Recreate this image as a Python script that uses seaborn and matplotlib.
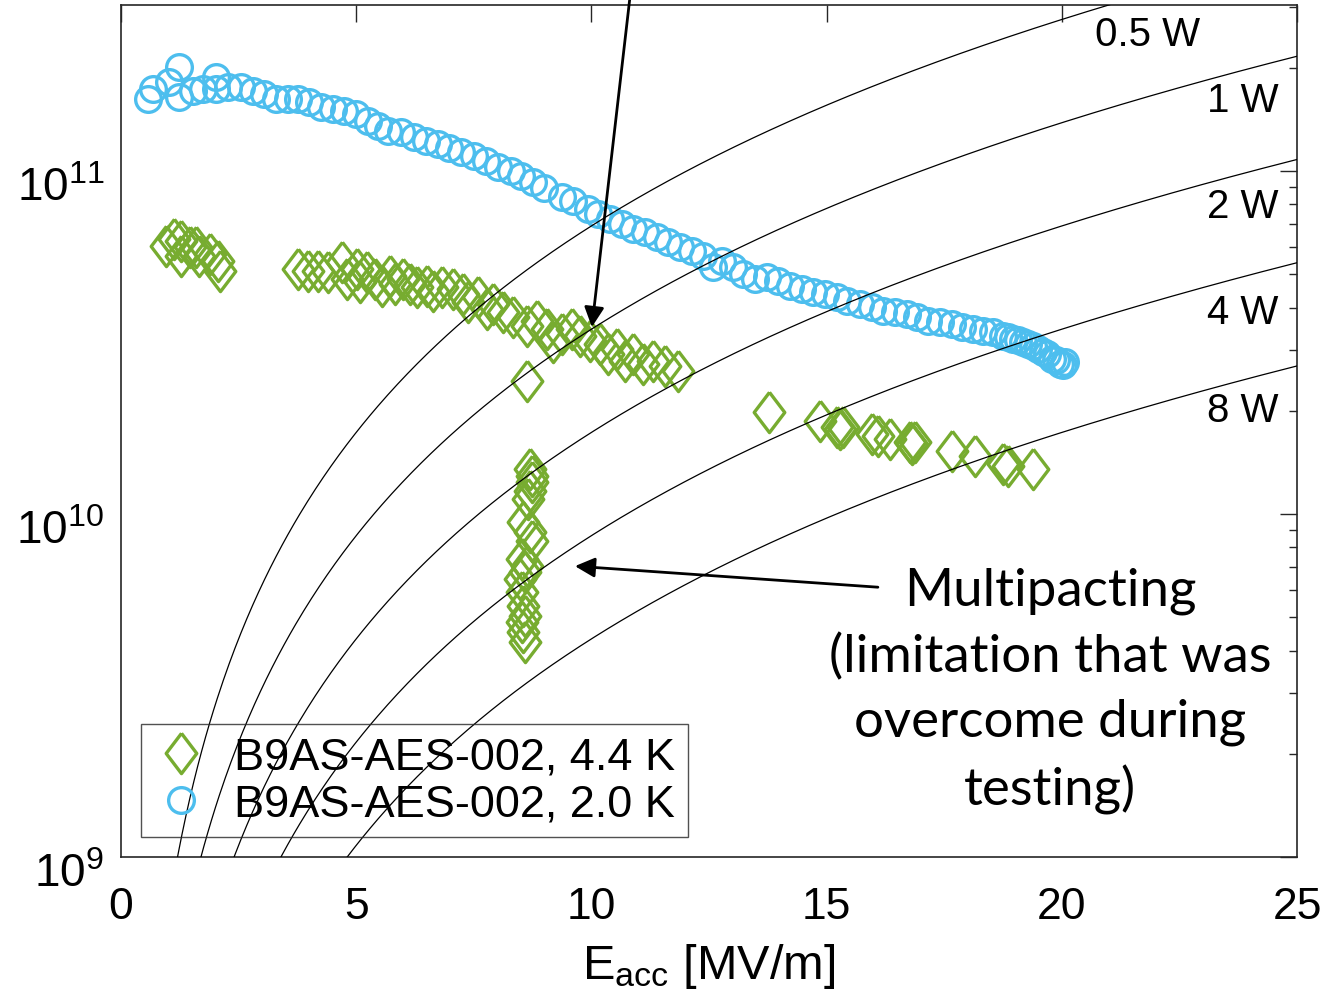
import numpy as np
import pandas as pd
import matplotlib
matplotlib.use("Agg")
import matplotlib.pyplot as plt
import matplotlib.transforms as mtransforms
import seaborn as sns

# ---------------- data ----------------
# 2.0 K series: Eacc [MV/m], Q0 in units of 1e10
e_blue = [0.57, 0.68, 1.02, 1.23, 1.23, 1.53, 1.74, 2.02, 2.02, 2.27,
          2.55, 2.81, 3.04, 3.30, 3.55, 3.76, 4.00, 4.25, 4.51, 4.74,
          5.00, 5.25, 5.46, 5.68, 5.95, 6.23, 6.48, 6.74, 6.97, 7.23,
          7.50, 7.76, 8.01, 8.29, 8.50, 8.76, 8.99, 9.38, 9.61, 9.93,
          10.14, 10.40, 10.65, 10.88, 11.14, 11.39, 11.63, 11.88, 12.14, 12.37,
          12.58, 12.78, 13.01, 13.22, 13.48, 13.73, 13.97, 14.22, 14.48, 14.71,
          14.97, 15.22, 15.43, 15.71, 15.97, 16.20, 16.45, 16.71, 16.92, 17.16,
          17.41, 17.67, 17.88, 18.11, 18.32, 18.54, 18.75, 18.86, 18.96, 19.07,
          19.18, 19.28, 19.39, 19.49, 19.60, 19.69, 19.79, 19.88, 19.96, 20.03,
          20.07]
q_blue_e10 = [16.2, 17.3, 18.2, 20.1, 16.4, 17.1, 17.3, 18.8, 17.3, 17.6,
              17.6, 17.1, 16.8, 16.2, 16.2, 16.2, 15.9, 15.4, 15.2, 15.0,
              14.7, 14.0, 13.5, 13.1, 13.0, 12.6, 12.2, 12.0, 11.7, 11.4,
              11.1, 10.7, 10.3, 10.0, 9.7, 9.3, 8.9, 8.4, 8.2, 7.75,
              7.5, 7.25, 7.0, 6.77, 6.64, 6.42, 6.21, 6.0, 5.85, 5.65,
              5.25, 5.47, 5.25, 5.0, 4.84, 4.91, 4.78, 4.62, 4.53, 4.44,
              4.38, 4.29, 4.18, 4.09, 4.01, 3.91, 3.88, 3.83, 3.75, 3.65,
              3.63, 3.58, 3.51, 3.46, 3.42, 3.40, 3.30, 3.28, 3.24, 3.21,
              3.17, 3.13, 3.09, 3.03, 2.97, 2.93, 2.83, 2.81, 2.74, 2.72,
              2.77]

# 4.4 K series
e_green = [0.96, 1.13, 1.28, 1.28, 1.47, 1.59, 1.66, 1.89, 2.06, 2.10,
           3.76, 3.98, 4.19, 4.40, 4.70, 4.80, 5.02, 5.08, 5.23, 5.40,
           5.55, 5.72, 5.82, 5.99, 6.14, 6.29, 6.51, 6.63, 6.82, 7.06,
           7.27, 7.38, 7.59, 7.78, 7.91, 8.12, 8.33, 8.63, 8.84, 9.06,
           9.18, 9.38, 9.59, 9.76, 9.97, 10.18, 10.35, 10.54, 10.71, 10.88,
           11.10, 11.31, 11.56, 11.84,
           8.63,
           8.69, 8.74, 8.74, 8.69, 8.65, 8.55, 8.69, 8.74, 8.52, 8.63,
           8.59, 8.48, 8.52, 8.55, 8.59, 8.52, 8.55, 8.59,
           13.78, 14.86, 15.22, 15.28, 15.35, 15.97, 16.09, 16.35, 16.77, 16.81,
           16.88, 17.67, 18.15, 18.75, 18.86, 19.39]
q_green_e10 = [6.04, 6.34, 6.25, 5.65, 6.0, 6.0, 5.65, 5.73, 5.47, 5.11,
               5.18, 5.11, 5.11, 5.08, 5.43, 4.84, 5.18, 4.75, 5.08, 4.84,
               4.62, 4.94, 4.69, 4.84, 4.69, 4.59, 4.62, 4.47, 4.59, 4.53,
               4.38, 4.15, 4.29, 3.96, 4.09, 3.88, 3.75, 3.53, 3.65, 3.46,
               3.17, 3.35, 3.46, 3.30, 3.19, 3.13, 2.93, 3.03, 2.79, 2.93,
               2.74, 2.79, 2.70, 2.61,
               2.44,
               1.35, 1.29, 1.24, 1.17, 1.11, 0.95, 0.887, 0.834, 0.739, 0.705,
               0.677, 0.646, 0.593, 0.539, 0.504, 0.484, 0.453, 0.424,
               1.98, 1.87, 1.79, 1.77, 1.79, 1.71, 1.69, 1.66, 1.62, 1.60,
               1.62, 1.53, 1.48, 1.40, 1.38, 1.35]

label_green = "B9AS-AES-002, 4.4 K"
label_blue = "B9AS-AES-002, 2.0 K"

# constant-power lines: Q0 = G * Eacc^2 / P
powers_w = [0.5, 1, 2, 4, 8]
power_labels = ["0.5 W", "1 W", "2 W", "4 W", "8 W"]
power_const = 3.46e8

x_ticks = [0, 5, 10, 15, 20, 25]
x_lim = (0, 25)
y_lim = (1e9, 3.05e11)

annot_text = "Multipacting\n(limitation that was\novercome during\ntesting)"

# ---------------- style ----------------
blue = "#4DBEEE"
green = "#77AC30"
axcol = "#262626"

sns.set_theme(style="white")
plt.rcParams["font.family"] = ["Liberation Sans", "DejaVu Sans"]
plt.rcParams["mathtext.fontset"] = "custom"
plt.rcParams["mathtext.rm"] = "Liberation Sans"
plt.rcParams["mathtext.it"] = "Liberation Sans:italic"
plt.rcParams["mathtext.bf"] = "Liberation Sans:bold"
plt.rcParams["text.color"] = "black"
plt.rcParams["axes.labelcolor"] = "black"
plt.rcParams["xtick.color"] = "black"
plt.rcParams["ytick.color"] = "black"

fig = plt.figure(figsize=(13.25, 10.04), dpi=100)
ax = fig.add_axes([0.0913, 0.1454, 0.8876, 0.8486])
ax.set_yscale("log")

df_blue = pd.DataFrame({"E": e_blue, "Q": np.array(q_blue_e10) * 1e10})
df_green = pd.DataFrame({"E": e_green, "Q": np.array(q_green_e10) * 1e10})

diamond = [(0, 1), (0.76, 0), (0, -1), (-0.76, 0), (0, 1)]

sns.lineplot(data=df_green, x="E", y="Q", sort=False, estimator=None, ax=ax,
             linestyle="", marker=diamond, markersize=29,
             markerfacecolor="none", markeredgecolor=green, markeredgewidth=2.4,
             color=green, label=label_green, zorder=2)
sns.lineplot(data=df_blue, x="E", y="Q", sort=False, estimator=None, ax=ax,
             linestyle="", marker="o", markersize=18.5,
             markerfacecolor="none", markeredgecolor=blue, markeredgewidth=2.4,
             color=blue, label=label_blue, zorder=2)

e_curve = np.linspace(0.05, 25, 600)
for p in powers_w:
    sns.lineplot(x=e_curve, y=power_const * e_curve ** 2 / p, ax=ax,
                 color="black", linewidth=0.9, sort=False, estimator=None,
                 legend=False, zorder=3)

# power labels
label_pos = [(22.94, 2.51e11), (24.6, 1.61e11), (24.6, 7.91e10),
             (24.6, 3.88e10), (24.6, 2.01e10)]
for (lx, ly), txt in zip(label_pos, power_labels):
    ax.text(lx, ly, txt, ha="right", va="center", fontsize=29, color="black",
            zorder=4)

ax.set_xlim(*x_lim)
ax.set_ylim(*y_lim)
ax.set_xticks(x_ticks)
ax.set_xticklabels([str(t) for t in x_ticks])
ax.xaxis.set_minor_locator(matplotlib.ticker.NullLocator())
ax.yaxis.set_major_locator(matplotlib.ticker.LogLocator(base=10, numticks=10))
ax.yaxis.set_minor_locator(matplotlib.ticker.LogLocator(base=10, subs=np.arange(2, 10), numticks=20))
ax.yaxis.set_minor_formatter(matplotlib.ticker.NullFormatter())

ax.tick_params(axis="both", which="both", direction="in", top=True, right=True,
               colors=axcol, labelcolor="black", width=1.0)
ax.tick_params(axis="both", which="major", length=12, labelsize=32)
ax.tick_params(axis="y", which="major", labelsize=33)
ax.tick_params(axis="both", which="minor", length=6)
ax.tick_params(axis="x", which="major", pad=21)
ax.tick_params(axis="y", which="major", pad=12)

for s in ax.spines.values():
    s.set_color(axcol)
    s.set_linewidth(1.2)

ax.set_xlabel(r"$\mathregular{E_{acc}}$ [MV/m]", fontsize=35, labelpad=10)
ax.set_ylabel("")

# shift y tick labels down so that the "10" sits on the tick (MATLAB style)
offset = mtransforms.ScaledTranslation(0, -12 / 100, fig.dpi_scale_trans)
fig.canvas.draw()
for lbl in ax.get_yticklabels():
    lbl.set_transform(lbl.get_transform() + offset)

# arrows
ax.annotate("", xy=(10.01, 3.51e10), xytext=(10.84, 3.4e11),
            arrowprops=dict(arrowstyle="-|>", color="black", lw=2,
                            mutation_scale=30, shrinkA=0, shrinkB=0),
            annotation_clip=False, zorder=5)
ax.annotate("", xy=(9.65, 7.05e9), xytext=(16.09, 6.12e9),
            arrowprops=dict(arrowstyle="-|>", color="black", lw=2,
                            mutation_scale=30, shrinkA=0, shrinkB=0),
            annotation_clip=False, zorder=5)
ax.text(19.75, 3.06e9, annot_text, ha="center", va="center",
        multialignment="center", fontsize=38, family=["Lato", "DejaVu Sans"],
        linespacing=1.46, color="black", zorder=5)

leg = ax.legend(loc="lower left", bbox_to_anchor=(0.017, 0.0235),
                borderaxespad=0, fontsize=32.5, frameon=True, fancybox=False,
                framealpha=None, facecolor="none", edgecolor=axcol,
                handlelength=1.2, handletextpad=0.58, borderpad=0.28,
                labelspacing=0.12)
leg.get_frame().set_linewidth(1.0)
for t in leg.get_texts():
    t.set_color("black")

fig.savefig("out.png", dpi=100)
